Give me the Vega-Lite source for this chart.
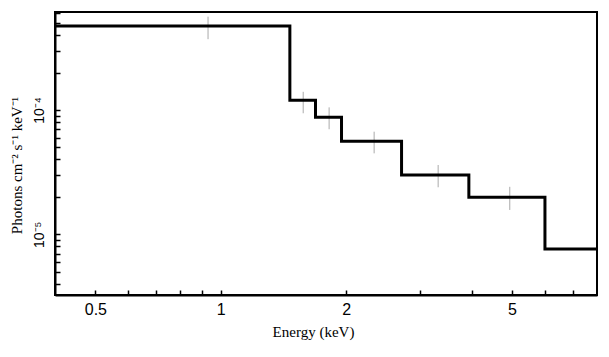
{
  "$schema": "https://vega.github.io/schema/vega-lite/v6.json",
  "width": 542,
  "height": 283,
  "autosize": "none",
  "padding": {"left": 55, "top": 12, "right": 12, "bottom": 62},
  "background": "white",
  "config": {
    "view": {"stroke": "black", "strokeWidth": 2},
    "axis": {
      "domainColor": "black",
      "domainWidth": 2,
      "grid": false,
      "labelFont": "Liberation Sans",
      "labelFontSize": 16,
      "labelColor": "black",
      "titleFont": "Liberation Serif",
      "titleFontSize": 15,
      "titleFontWeight": "normal",
      "titleColor": "black"
    }
  },
  "datasets": {
    "steps": [
      {"E": 0.4, "F": 0.000474},
      {"E": 1.465, "F": 0.000120},
      {"E": 1.688, "F": 0.0000873},
      {"E": 1.949, "F": 0.0000560},
      {"E": 2.716, "F": 0.0000300},
      {"E": 3.94, "F": 0.0000199},
      {"E": 6.0, "F": 0.00000762},
      {"E": 8.0, "F": 0.00000762}
    ],
    "errs": [
      {"E": 0.932, "lo": 0.000371, "hi": 0.000563},
      {"E": 1.577, "lo": 0.0000941, "hi": 0.000140},
      {"E": 1.820, "lo": 0.0000700, "hi": 0.000105},
      {"E": 2.334, "lo": 0.0000448, "hi": 0.0000669},
      {"E": 3.325, "lo": 0.0000239, "hi": 0.0000361},
      {"E": 4.94, "lo": 0.0000157, "hi": 0.0000241}
    ]
  },
  "layer": [
    {
      "data": {"name": "errs"},
      "mark": {"type": "rule", "color": "#aaaaaa", "strokeWidth": 1},
      "encoding": {
        "x": {
          "field": "E", "type": "quantitative",
          "scale": {"type": "log", "domain": [0.4, 8], "nice": false},
          "axis": {
            "orient": "bottom",
            "title": "Energy (keV)",
            "titleX": 258,
            "titleY": 41,
            "titleBaseline": "alphabetic",
            "values": [0.5, 0.6, 0.7, 0.8, 0.9, 1, 2, 3, 4, 5, 6, 7],
            "labelExpr": "datum.value == 0.5 ? '0.5' : datum.value == 1 ? '1' : datum.value == 2 ? '2' : datum.value == 5 ? '5' : ''",
            "tickColor": "black",
            "tickWidth": 1.5,
            "tickOpacity": 1,
            "tickSize": -5,
            "labelPadding": 11,
            "labelFlush": false,
            "labelOverlap": false
          }
        },
        "y": {
          "field": "lo", "type": "quantitative",
          "scale": {"type": "log", "domain": [0.00000325, 0.000614], "nice": false},
          "axis": {
            "orient": "left",
            "title": "Photons cm⁻² s⁻¹ keV⁻¹",
            "titleX": -39,
            "titleY": 153,
            "titleAngle": -90,
            "titleAlign": "center",
            "titleBaseline": "middle",
            "values": [0.000004, 0.000005, 0.000006, 0.000007, 0.000008, 0.000009, 0.00001, 0.00002, 0.00003, 0.00004, 0.00005, 0.00006, 0.00007, 0.00008, 0.00009, 0.0001, 0.0002, 0.0003, 0.0004, 0.0005, 0.0006],
            "labelExpr": "abs(log(datum.value)/LN10 + 4) < 0.01 ? '10⁻⁴' : abs(log(datum.value)/LN10 + 5) < 0.01 ? '10⁻⁵' : ''",
            "tickColor": "black",
            "tickWidth": 1.5,
            "tickOpacity": 1,
            "tickSize": -5,
            "labelFontSize": 14,
            "labelAngle": -90,
            "labelAlign": "center",
            "labelBaseline": "middle",
            "labelPadding": 21,
            "labelFlush": false,
            "labelOverlap": false
          }
        },
        "y2": {"field": "hi"}
      }
    },
    {
      "data": {"name": "steps"},
      "mark": {"type": "line", "interpolate": "step-after", "color": "black", "strokeWidth": 3, "clip": true},
      "encoding": {
        "x": {"field": "E", "type": "quantitative"},
        "y": {"field": "F", "type": "quantitative"}
      }
    }
  ]
}
